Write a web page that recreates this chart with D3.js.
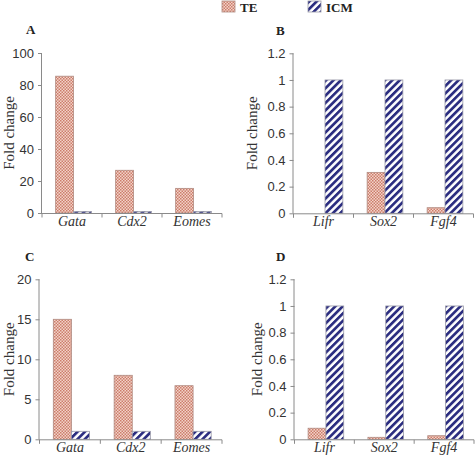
<!DOCTYPE html>
<html><head><meta charset="utf-8">
<script src="https://cdn.jsdelivr.net/npm/d3@7"></script>
<style>
html,body{margin:0;padding:0;background:#fff;}
svg{display:block;}
</style></head>
<body>
<script>
// ---- data ----
const seriesNames = ["TE", "ICM"];
const catsTroph = ["Gata", "Cdx2", "Eomes"];
const catsPluri = ["Lifr", "Sox2", "Fgf4"];
const teA = [85.5, 26.7, 15.4];
const icmA = [1, 1, 1];
const teB = [0, 0.307, 0.042];
const icmB = [1, 1, 1];
const teC = [15.0, 8.0, 6.7];
const icmC = [1, 1, 1];
const teD = [0.083, 0.015, 0.027];
const icmD = [1, 1, 1];
const ticksA = [0, 20, 40, 60, 80, 100];
const ticksB = [0, 0.2, 0.4, 0.6, 0.8, 1, 1.2];
const ticksC = [0, 5, 10, 15, 20];
const ticksD = [0, 0.2, 0.4, 0.6, 0.8, 1, 1.2];
const panelLetters = ["A", "B", "C", "D"];
const yTitle = "Fold change";

const W = 476, H = 456;
const svg = d3.select("body").append("svg").attr("width", W).attr("height", H);
const defs = svg.append("defs");

// TE pattern: pink checker
const pTE = defs.append("pattern").attr("id", "pTE").attr("patternUnits", "userSpaceOnUse")
  .attr("width", 3).attr("height", 3);
pTE.append("rect").attr("width", 3).attr("height", 3).attr("fill", "#f3d3c9");
pTE.append("rect").attr("x", 0).attr("y", 0).attr("width", 1.5).attr("height", 1.5).attr("fill", "#cc7d6b");
pTE.append("rect").attr("x", 1.5).attr("y", 1.5).attr("width", 1.5).attr("height", 1.5).attr("fill", "#cc7d6b");

// ICM pattern: navy diagonal stripes "/"
const pICM = defs.append("pattern").attr("id", "pICM").attr("patternUnits", "userSpaceOnUse")
  .attr("width", 5.2).attr("height", 10).attr("patternTransform", "rotate(45)");
pICM.append("rect").attr("width", 5.2).attr("height", 10).attr("fill", "#ffffff");
pICM.append("rect").attr("width", 2.7).attr("height", 10).attr("fill", "#2b2d80");

const fills = {TE: "url(#pTE)", ICM: "url(#pICM)"};
const strokes = {TE: "#b08a80", ICM: "#9a9aa8"};
const axisColor = "#8a8a8a";

const panels = [
  {letter: panelLetters[0], cats: catsTroph, te: teA, icm: icmA, ticks: ticksA, max: 100,
   x0: 42, x1: 222, yTop: 53, yBot: 213, lx: 26, ly: 34, tx: 13.5},
  {letter: panelLetters[1], cats: catsPluri, te: teB, icm: icmB, ticks: ticksB, max: 1.2,
   x0: 293.5, x1: 473.5, yTop: 53.3, yBot: 213.3, lx: 276, ly: 35, tx: 257},
  {letter: panelLetters[2], cats: catsTroph, te: teC, icm: icmC, ticks: ticksC, max: 20,
   x0: 39.5, x1: 222, yTop: 279.3, yBot: 439.3, lx: 25, ly: 261, tx: 13.5},
  {letter: panelLetters[3], cats: catsPluri, te: teD, icm: icmD, ticks: ticksD, max: 1.2,
   x0: 294.5, x1: 474, yTop: 279.3, yBot: 439.3, lx: 276, ly: 261, tx: 262}
];

panels.forEach(p => {
  const g = svg.append("g");
  const x = d3.scaleBand().domain(p.cats).range([p.x0, p.x1]).paddingInner(0).paddingOuter(0);
  const xs = d3.scaleBand().domain(seriesNames).range([0, x.bandwidth()]).paddingInner(0).paddingOuter(0.68);
  const y = d3.scaleLinear().domain([0, p.max]).range([p.yBot, p.yTop]);

  const rows = p.cats.map((c, i) => ({cat: c, TE: p.te[i], ICM: p.icm[i]}));

  // bars
  rows.forEach(r => {
    seriesNames.forEach(s => {
      const v = r[s];
      if (v <= 0) return;
      g.append("rect")
        .attr("x", x(r.cat) + xs(s) + 1.5)
        .attr("y", y(v))
        .attr("width", xs.bandwidth())
        .attr("height", y(0) - y(v))
        .attr("fill", fills[s])
        .attr("stroke", strokes[s])
        .attr("stroke-width", 0.8);
    });
  });

  // y axis
  const yAxis = d3.axisLeft(y).tickValues(p.ticks).tickSize(4).tickPadding(4)
    .tickFormat(d => d3.format("")(+d.toFixed(2)));
  const ya = g.append("g").attr("transform", `translate(${p.x0},0)`).call(yAxis);
  ya.select(".domain").attr("stroke", axisColor).attr("d", `M-0.5,${p.yTop}V${p.yBot}`);
  ya.selectAll(".tick line").attr("stroke", axisColor);
  ya.selectAll(".tick text").attr("font-family", "'Liberation Sans', Arial, sans-serif")
    .attr("font-size", 13).attr("fill", "#333");

  // x axis line + boundary ticks
  const xa = g.append("g").attr("transform", `translate(0,${p.yBot})`)
    .call(d3.axisBottom(x).tickSize(0).tickPadding(3));
  xa.select(".domain").attr("stroke", axisColor).attr("d", `M${p.x0 - 0.5},0.5H${p.x1}`);
  xa.selectAll(".tick text").attr("font-family", "'Liberation Serif', 'Times New Roman', serif")
    .attr("font-style", "italic").attr("font-size", 14).attr("fill", "#333");
  const bounds = p.cats.map(c => x(c)).concat([x(p.cats[p.cats.length - 1]) + x.bandwidth()]);
  xa.selectAll("line.bt").data(bounds).enter().append("line").attr("class", "bt")
    .attr("x1", d => d).attr("x2", d => d).attr("y1", 0.5).attr("y2", 4.5)
    .attr("stroke", axisColor);

  // y title
  g.append("text")
    .attr("transform", `translate(${p.tx},${(p.yTop + p.yBot) / 2 + 0}) rotate(-90)`)
    .attr("text-anchor", "middle")
    .attr("font-family", "'Liberation Serif', 'Times New Roman', serif")
    .attr("font-size", 15).attr("fill", "#333").text(yTitle);

  // panel letter
  g.append("text").attr("x", p.lx).attr("y", p.ly)
    .attr("font-family", "'Liberation Serif', 'Times New Roman', serif")
    .attr("font-weight", "bold").attr("font-size", 13).attr("fill", "#222").text(p.letter);
});

// legend
const legend = svg.append("g");
const legItems = [{s: "TE", x: 222}, {s: "ICM", x: 308}];
legItems.forEach(it => {
  legend.append("rect").attr("x", it.x).attr("y", 1).attr("width", 13).attr("height", 11)
    .attr("fill", fills[it.s]).attr("stroke", strokes[it.s]).attr("stroke-width", 0.8);
  legend.append("text").attr("x", it.x + 18).attr("y", 11.5)
    .attr("font-family", "'Liberation Serif', 'Times New Roman', serif")
    .attr("font-weight", "bold").attr("font-size", 13).attr("fill", "#222").text(it.s);
});
</script>
</body></html>
